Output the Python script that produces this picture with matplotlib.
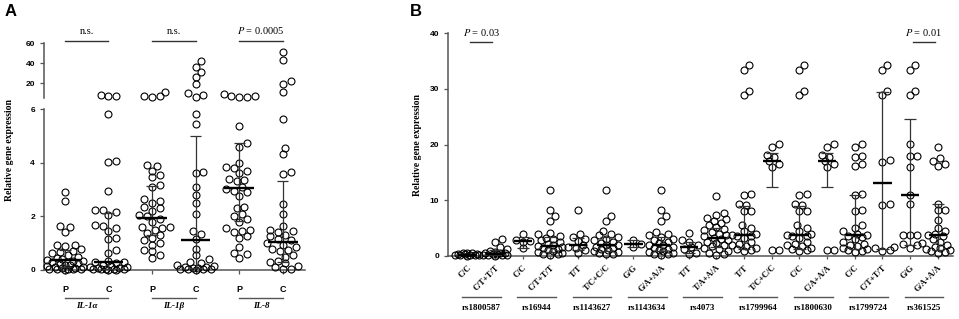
import numpy as np
import matplotlib.pyplot as plt
from matplotlib.transforms import blended_transform_factory

plt.rcParams['mathtext.fontset'] = 'stix'

# ---------------- panel A data ----------------
a_groups = ["P", "C", "P", "C", "P", "C"]
a_genes = ["IL-1α", "IL-1β", "IL-8"]
a_sig = ["n.s.", "n.s.", "$P$ = 0.0005"]

il1a_p = [2.92, 2.58, 1.64, 1.59, 1.43, 0.95, 0.92, 0.9, 0.78, 0.72, 0.68, 0.62, 0.55, 0.5,
          0.45, 0.42, 0.38, 0.35, 0.32, 0.3, 0.26, 0.22, 0.2, 0.17, 0.14, 0.12, 0.1, 0.08,
          0.06, 0.05, 0.04, 0.03, 0.02, 0.02, 0.01]
il1a_c = [8.0, 6.8, 6.8, 5.8, 4.05, 4.03, 2.93, 2.25, 2.22, 2.15, 2.05, 1.68, 1.63, 1.55, 1.45,
          1.2, 1.15, 0.75, 0.62, 0.35, 0.3, 0.28, 0.25, 0.2, 0.15, 0.12, 0.1, 0.08, 0.06,
          0.05, 0.04, 0.03, 0.02, 0.02, 0.01, 0.01]
il1b_p = [7.0, 6.3, 11.0, 6.8, 3.9, 3.88, 3.7, 3.55, 3.45, 3.15, 3.1, 2.65, 2.58, 2.5, 2.35,
          2.3, 2.2, 2.05, 2.0, 1.9, 1.8, 1.62, 1.6, 1.55, 1.5, 1.38, 1.3, 1.2, 1.1, 1.0,
          0.95, 0.75, 0.7, 0.55, 0.45]
il1b_c = [42, 36, 31, 26, 19, 8, 6.5, 10, 5.8, 5.45, 3.65, 3.6, 3.1, 2.8, 2.5, 2.1, 1.45,
          1.35, 1.15, 0.8, 0.55, 0.4, 0.3, 0.25, 0.2, 0.15, 0.12, 0.1, 0.08, 0.06, 0.05,
          0.03, 0.02, 0.02, 0.01]
il8_p = [6.5, 9.5, 7.0, 6.5, 7.2, 5.38, 4.75, 4.6, 4.0, 3.85, 3.8, 3.7, 3.6, 3.4, 3.35, 3.3,
         3.1, 3.02, 2.95, 2.9, 2.75, 2.35, 2.3, 2.1, 2.0, 1.9, 1.8, 1.55, 1.5, 1.45, 1.4,
         1.25, 1.2, 0.85, 0.65, 0.6, 0.45]
il8_c = [51, 43, 22, 19, 11, 5.63, 4.56, 4.33, 3.67, 3.57, 2.45, 2.1, 1.65, 1.5, 1.45, 1.4,
         1.3, 1.25, 1.15, 1.1, 1.0, 0.95, 0.85, 0.8, 0.75, 0.7, 0.55, 0.5, 0.35, 0.3, 0.25,
         0.15, 0.1, 0.05, 0.02]
a_values = [il1a_p, il1a_c, il1b_p, il1b_c, il8_p, il8_c]
a_median = [0.38, 0.28, 1.95, 1.12, 3.05, 1.03]
a_q1 = [0.12, 0.04, 1.3, 0.08, 1.83, 0.3]
a_q3 = [0.75, 2.12, 3.13, 5.0, 4.75, 3.3]

# ---------------- panel B data ----------------
b_genotypes = ["C/C", "C/T+T/T", "C/C", "C/T+T/T", "T/T", "T/C+C/C", "G/G", "G/A+A/A",
               "T/T", "T/A+A/A", "T/T", "T/C+C/C", "C/C", "C/A+A/A", "C/C", "C/T+T/T",
               "G/G", "G/A+A/A"]
b_snps = ["rs1800587", "rs16944", "rs1143627", "rs1143634", "rs4073", "rs1799964",
          "rs1800630", "rs1799724", "rs361525"]
b_sig = {0: "$P$ = 0.03", 8: "$P$ = 0.01"}

b_values = [
    [0.6, 0.5, 0.45, 0.4, 0.35, 0.3, 0.25, 0.2, 0.15, 0.1, 0.1, 0.05],
    [3.0, 2.55, 1.7, 1.2, 0.9, 0.8, 0.6, 0.5, 0.45, 0.4, 0.3, 0.25, 0.2, 0.15, 0.1, 0.05],
    [3.9, 2.9, 2.7, 2.6, 1.4],
    [11.8, 8.3, 7.1, 6.25, 4.2, 3.9, 3.6, 3.3, 3.0, 2.8, 2.5, 2.2, 2.0, 1.8, 1.6, 1.5, 1.3,
     1.1, 0.9, 0.7, 0.5, 0.4, 0.3, 0.2],
    [8.2, 4.0, 3.4, 3.0, 2.7, 2.0, 1.7, 1.5, 1.0, 0.5],
    [11.8, 7.1, 6.25, 4.5, 4.0, 3.7, 3.4, 3.1, 2.8, 2.6, 2.3, 2.0, 1.9, 1.7, 1.5, 1.3, 1.1,
     0.9, 0.7, 0.5, 0.4, 0.3],
    [2.8, 2.2, 1.6],
    [11.8, 8.3, 7.1, 6.25, 4.3, 4.0, 3.7, 3.4, 3.1, 2.8, 2.6, 2.3, 2.0, 1.9, 1.7, 1.5, 1.3,
     1.1, 0.9, 0.7, 0.5, 0.4, 0.3, 0.2],
    [4.1, 2.9, 2.6, 2.0, 1.6, 1.3, 0.6, 0.4],
    [10.8, 7.7, 7.3, 6.9, 6.6, 6.3, 5.9, 5.6, 5.2, 4.9, 4.6, 4.3, 4.0, 3.7, 3.5, 3.3, 3.1,
     2.9, 2.6, 2.3, 2.0, 1.8, 1.5, 1.2, 0.9, 0.6, 0.3, 0.2],
    [34.3, 33.4, 29.6, 28.8, 11.2, 11.0, 9.3, 9.1, 8.1, 8.1, 5.5, 5.0, 4.5, 4.0, 3.8, 3.6,
     3.5, 3.3, 2.5, 2.2, 2.0, 1.8, 1.5, 1.3, 1.1, 0.9],
    [20.1, 19.6, 18.1, 17.7, 17.0, 16.5, 16.0, 1.0, 1.0],
    [34.3, 33.4, 29.6, 28.8, 11.2, 11.0, 9.3, 9.1, 8.1, 8.1, 5.5, 5.0, 4.5, 4.0, 3.8, 3.6,
     3.5, 3.3, 2.5, 2.2, 2.0, 1.8, 1.5, 1.3, 1.1, 0.9],
    [20.1, 19.6, 18.1, 17.7, 17.0, 16.5, 16.0, 1.0, 1.0],
    [20.1, 19.6, 18.0, 17.7, 16.5, 16.1, 11.2, 11.0, 8.2, 8.1, 5.5, 5.0, 4.5, 4.0, 3.8, 3.6,
     3.4, 3.0, 2.5, 2.2, 2.0, 1.8, 1.5, 1.3, 1.1, 0.9, 0.8],
    [34.3, 33.4, 29.6, 28.9, 17.3, 16.8, 9.3, 9.1, 1.6, 1.5, 1.0, 0.9],
    [34.3, 33.4, 29.6, 28.8, 20.1, 18.0, 18.0, 15.9, 10.9, 9.3, 3.8, 3.75, 3.7, 2.3, 2.1,
     2.0, 1.5],
    [19.6, 17.5, 17.0, 16.5, 16.2, 9.3, 8.2, 8.2, 6.5, 5.0, 4.5, 4.0, 3.7, 3.5, 3.0, 2.5,
     2.0, 1.7, 1.4, 1.2, 1.0, 0.9, 0.7, 0.5],
]
b_median = [0.2, 0.4, 2.7, 1.8, 2.0, 2.0, 2.1, 2.0, 1.6, 3.3, 3.7, 17.0, 3.7, 17.0, 3.7,
            13.1, 10.9, 3.7]
b_q1 = [0.1, 0.15, 1.4, 0.8, 1.0, 0.9, 1.6, 0.9, 0.6, 1.6, 1.3, 12.3, 1.3, 12.3, 1.2, 1.2,
        2.0, 1.0]
b_q3 = [0.4, 1.0, 3.4, 3.4, 3.2, 3.4, 2.8, 3.4, 2.6, 5.0, 9.0, 18.4, 9.0, 18.4, 10.9, 29.5,
        24.5, 9.3]

# ---------------- layout helpers ----------------
W, H = 959, 319
fig = plt.figure(figsize=(W / 100, H / 100), dpi=100)
SANS = "Liberation Sans"
SERIF = "Liberation Serif"
AXC = "#555555"


def box(l, t, r, b):
    return [l / W, 1 - b / H, (r - l) / W, (b - t) / H]


def fy(px):
    return 1 - px / H


def swarm(ax, xc, vals, d=6.6, step=2.6, max_off=19, frac=1.0):
    # beeswarm in pixel space; overlap allowed once the spread is capped
    xs = np.zeros(len(vals))
    placed = []
    x0 = ax.transData.transform((xc, 0))[0]
    inv = ax.transData.inverted()
    cands = [0.0]
    k = 1
    while k * step <= max_off:
        cands += [k * step, -k * step]
        k += 1
    for i in np.argsort(vals):
        y = ax.transData.transform((xc, vals[i]))[1]
        best, best_d = 0.0, -1
        for off in cands:
            md = min([np.hypot(off - px, y - py) for px, py in placed] + [99])
            if md >= frac * d:
                best = off
                break
            if md > best_d:
                best, best_d = off, md
        placed.append((best, y))
        xs[i] = inv.transform((x0 + best, y))[0]
    return xs


def dots(ax, xs, ys):
    ax.plot(xs, ys, 'o', ms=5.0, mfc='none', mec='black', mew=0.8, clip_on=False, zorder=3)


def style(ax):
    for s in ['top', 'right']:
        ax.spines[s].set_visible(False)
    for s in ['left', 'bottom']:
        ax.spines[s].set_color(AXC)
        ax.spines[s].set_linewidth(1.1)
    ax.tick_params(colors=AXC, width=0.9, length=3, labelcolor='black')
    for lab in ax.get_yticklabels():
        lab.set_fontfamily(SANS)
        lab.set_fontweight('bold')
        lab.set_fontsize(6)


# ---------------- panel A ----------------
ax_lo = fig.add_axes(box(44, 109, 305, 270))
ax_hi = fig.add_axes(box(44, 43, 305, 98))
for ax in (ax_lo, ax_hi):
    ax.set_xlim(-0.48, 5.51)
    ax.patch.set_alpha(0)
ax_lo.set_ylim(0, 6)
ax_hi.set_ylim(5, 60)
ax_lo.set_yticks([0, 2, 4, 6])
ax_hi.set_yticks([20, 40, 60])
ax_hi.spines['bottom'].set_visible(False)
ax_hi.set_xticks([])
ax_lo.set_xticks(range(len(a_groups)))
ax_lo.set_xticklabels(a_groups, fontfamily=SANS, fontweight='bold', fontsize=6.5)
ax_lo.tick_params(axis='x', length=0, pad=8)
style(ax_lo)
style(ax_hi)

for i, vals in enumerate(a_values):
    v = np.array(vals, dtype=float)
    lo = v[v <= 6]
    hi = v[v > 6]
    dots(ax_lo, swarm(ax_lo, i, lo), lo)
    if len(hi):
        dots(ax_hi, swarm(ax_hi, i, hi), hi)
    ax_lo.vlines(i, a_q1[i], a_q3[i], color='#333333', lw=0.9, zorder=4, clip_on=False)
    ax_lo.hlines([a_q1[i], a_q3[i]], i - 0.13, i + 0.13, color='#333333', lw=0.9, zorder=4,
                 clip_on=False)
    ax_lo.hlines(a_median[i], i - 0.34, i + 0.34, color='black', lw=1.7, zorder=5,
                 clip_on=False)

ta = blended_transform_factory(ax_lo.transData, fig.transFigure)
for j, gene in enumerate(a_genes):
    x0, x1 = 2 * j, 2 * j + 1
    fig.add_artist(plt.Line2D([x0, x1], [fy(297.5)] * 2, transform=ta, color=AXC, lw=1.0))
    fig.text((x0 + x1) / 2, fy(306), gene, transform=ta, ha='center', va='center',
             fontfamily=SERIF, fontweight='bold', fontstyle='italic', fontsize=6.5)
    fig.add_artist(plt.Line2D([x0, x1], [fy(40.5)] * 2, transform=ta, color='#333333', lw=1.0))
    fig.text((x0 + x1) / 2, fy(31), a_sig[j], transform=ta, ha='center', va='center',
             fontfamily=SERIF, fontsize=7.5)

fig.text(10 / W, fy(150), "Relative gene expression", rotation=90, ha='center', va='center',
         fontfamily=SERIF, fontweight='bold', fontsize=7)
fig.text(5 / W, fy(12), "A", ha='left', va='center', fontfamily=SANS, fontweight='bold',
         fontsize=12)

# ---------------- panel B ----------------
axb = fig.add_axes(box(448, 33, 953, 256))
axb.patch.set_alpha(0)
axb.set_xlim(-0.7, 17.55)
axb.set_ylim(0, 40)
axb.set_yticks([0, 10, 20, 30, 40])
style(axb)
axb.set_xticks(range(len(b_genotypes)))
axb.set_xticklabels(b_genotypes, rotation=45, ha='right', va='top', rotation_mode='anchor',
                    fontfamily=SERIF, fontweight='bold', fontsize=6)
axb.tick_params(axis='x', length=2.5, pad=3)

for i, vals in enumerate(b_values):
    v = np.array(vals, dtype=float)
    dots(axb, swarm(axb, i, v, d=6.2, step=2.4, max_off=12.5, frac=0.95), v)
    axb.vlines(i, b_q1[i], b_q3[i], color='#333333', lw=0.9, zorder=4)
    axb.hlines([b_q1[i], b_q3[i]], i - 0.22, i + 0.22, color='#333333', lw=0.9, zorder=4)
    axb.hlines(b_median[i], i - 0.33, i + 0.33, color='black', lw=1.7, zorder=5)

tb = blended_transform_factory(axb.transData, fig.transFigure)
for j, snp in enumerate(b_snps):
    x0, x1 = 2 * j - 0.2, 2 * j + 1.2
    fig.add_artist(plt.Line2D([x0, x1], [fy(297)] * 2, transform=tb, color=AXC, lw=1.0))
    fig.text((x0 + x1) / 2, fy(307.5), snp, transform=tb, ha='center', va='center',
             fontfamily=SERIF, fontweight='bold', fontsize=6.5)
for j, label in b_sig.items():
    x0, x1 = 2 * j + 0.1, 2 * j + 0.9
    fig.add_artist(plt.Line2D([x0, x1], [fy(42)] * 2, transform=tb, color='#333333', lw=1.0))
    fig.text((x0 + x1) / 2, fy(33), label, transform=tb, ha='center', va='center',
             fontfamily=SERIF, fontsize=7.5)

fig.text(418 / W, fy(145), "Relative gene expression", rotation=90, ha='center',
         va='center', fontfamily=SERIF, fontweight='bold', fontsize=7)
fig.text(410 / W, fy(12), "B", ha='left', va='center', fontfamily=SANS, fontweight='bold',
         fontsize=12)

fig.savefig("out.png", dpi=100)
